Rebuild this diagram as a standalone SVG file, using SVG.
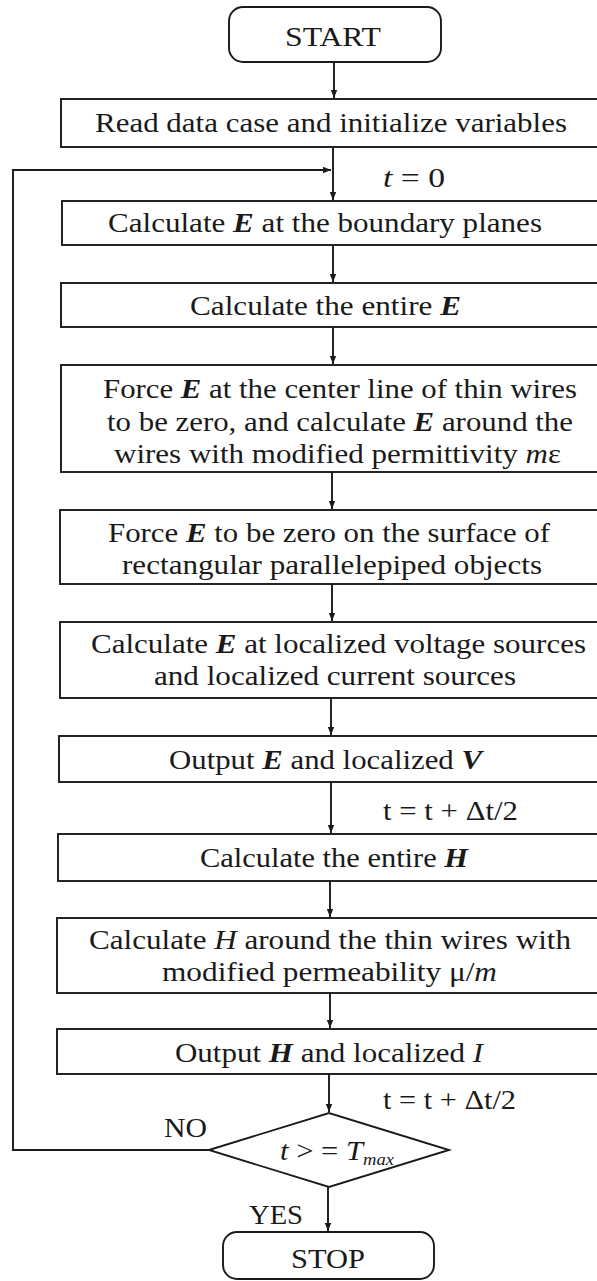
<svg xmlns="http://www.w3.org/2000/svg" width="597" height="1281" viewBox="0 0 597 1281">
<style>
.b{fill:#fff;stroke:#1a1a1a;stroke-width:1.9}
.c{fill:none;stroke:#1a1a1a;stroke-width:1.9}
text{font-family:"Liberation Serif","Times New Roman",serif;font-size:28px;fill:#1a1a1a}
.v{font-weight:bold;font-style:italic}
.i{font-style:italic}
</style>
<defs>
<marker id="ah" viewBox="0 0 10 10" refX="10" refY="5" markerWidth="8" markerHeight="8" markerUnits="userSpaceOnUse" orient="auto">
<path d="M0,1 L10,5 L0,9 z" fill="#1a1a1a"/>
</marker>
</defs>
<rect width="597" height="1281" fill="#fff"/>
<g id="connectors">
<line class="c" x1="334" y1="62" x2="334" y2="98" marker-end="url(#ah)"/>
<line class="c" x1="333" y1="147" x2="333" y2="200" marker-end="url(#ah)"/>
<polyline class="c" points="328,1150 13,1150 13,170 331,170" marker-end="url(#ah)"/>
<line class="c" x1="333" y1="245" x2="333" y2="282" marker-end="url(#ah)"/>
<line class="c" x1="333" y1="327" x2="333" y2="364" marker-end="url(#ah)"/>
<line class="c" x1="332" y1="472" x2="332" y2="509" marker-end="url(#ah)"/>
<line class="c" x1="332" y1="584" x2="332" y2="621" marker-end="url(#ah)"/>
<line class="c" x1="331" y1="698" x2="331" y2="735" marker-end="url(#ah)"/>
<line class="c" x1="331" y1="782" x2="331" y2="833" marker-end="url(#ah)"/>
<line class="c" x1="330" y1="881" x2="330" y2="917" marker-end="url(#ah)"/>
<line class="c" x1="330" y1="993" x2="330" y2="1028" marker-end="url(#ah)"/>
<line class="c" x1="329" y1="1074" x2="329" y2="1112" marker-end="url(#ah)"/>
<line class="c" x1="328" y1="1187" x2="328" y2="1231" marker-end="url(#ah)"/>
<text x="383" y="187" textLength="62" lengthAdjust="spacingAndGlyphs"><tspan class="i">t</tspan> = 0</text>
<text x="383" y="820" textLength="135" lengthAdjust="spacingAndGlyphs">t = t + Δt/2</text>
<text x="383" y="1109" textLength="133" lengthAdjust="spacingAndGlyphs">t = t + Δt/2</text>
<text x="164" y="1137" textLength="43" lengthAdjust="spacingAndGlyphs">NO</text>
<text x="249" y="1224" textLength="54" lengthAdjust="spacingAndGlyphs">YES</text>
</g>
<g id="start">
<rect class="b" x="229" y="7" width="212" height="55" rx="14"/>
<text x="285" y="46" textLength="96" lengthAdjust="spacingAndGlyphs">START</text>
</g>
<g id="init">
<rect class="b" x="61" y="99" width="540" height="48"/>
<text x="95" y="132" textLength="472" lengthAdjust="spacingAndGlyphs">Read data case and initialize variables</text>
</g>
<g id="boundary">
<rect class="b" x="62" y="201" width="540" height="44"/>
<text x="108" y="232" textLength="434" lengthAdjust="spacingAndGlyphs">Calculate <tspan class="v">E</tspan> at the boundary planes</text>
</g>
<g id="entireE">
<rect class="b" x="61" y="283" width="540" height="44"/>
<text x="190" y="315" textLength="271" lengthAdjust="spacingAndGlyphs">Calculate the entire <tspan class="v">E</tspan></text>
</g>
<g id="wires">
<rect class="b" x="61" y="365" width="540" height="107"/>
<text x="103" y="398" textLength="474" lengthAdjust="spacingAndGlyphs">Force <tspan class="v">E</tspan> at the center line of thin wires</text>
<text x="107" y="431" textLength="466" lengthAdjust="spacingAndGlyphs">to be zero, and calculate <tspan class="v">E</tspan> around the</text>
<text x="114" y="463" textLength="447" lengthAdjust="spacingAndGlyphs">wires with modified permittivity <tspan class="i">m</tspan>ε</text>
</g>
<g id="surface">
<rect class="b" x="60" y="510" width="541" height="74"/>
<text x="108" y="542" textLength="442" lengthAdjust="spacingAndGlyphs">Force <tspan class="v">E</tspan> to be zero on the surface of</text>
<text x="122" y="574" textLength="420" lengthAdjust="spacingAndGlyphs">rectangular parallelepiped objects</text>
</g>
<g id="sources">
<rect class="b" x="60" y="622" width="541" height="76"/>
<text x="91" y="653" textLength="495" lengthAdjust="spacingAndGlyphs">Calculate <tspan class="v">E</tspan> at localized voltage sources</text>
<text x="154" y="685" textLength="362" lengthAdjust="spacingAndGlyphs">and localized current sources</text>
</g>
<g id="outputE">
<rect class="b" x="59" y="736" width="542" height="46"/>
<text x="169" y="769" textLength="313" lengthAdjust="spacingAndGlyphs">Output <tspan class="v">E</tspan> and localized <tspan class="v">V</tspan></text>
</g>
<g id="entireH">
<rect class="b" x="58" y="834" width="543" height="47"/>
<text x="200" y="867" textLength="268" lengthAdjust="spacingAndGlyphs">Calculate the entire <tspan class="v">H</tspan></text>
</g>
<g id="aroundH">
<rect class="b" x="57" y="918" width="544" height="75"/>
<text x="89" y="949" textLength="482" lengthAdjust="spacingAndGlyphs">Calculate <tspan class="i">H</tspan> around the thin wires with</text>
<text x="162" y="981" textLength="335" lengthAdjust="spacingAndGlyphs">modified permeability μ/<tspan class="i">m</tspan></text>
</g>
<g id="outputH">
<rect class="b" x="57" y="1029" width="544" height="45"/>
<text x="175" y="1062" textLength="308" lengthAdjust="spacingAndGlyphs">Output <tspan class="v">H</tspan> and localized <tspan class="i">I</tspan></text>
</g>
<g id="decision">
<polygon class="b" points="209,1150 329,1113 449,1150 329,1187"/>
<text x="280" y="1160" textLength="114" lengthAdjust="spacingAndGlyphs"><tspan class="i">t</tspan> &gt; = <tspan class="i">T</tspan><tspan class="i" font-size="17" dy="5">max</tspan></text>
</g>
<g id="stop">
<rect class="b" x="223" y="1232" width="211" height="47" rx="14"/>
<text x="291" y="1268" textLength="74" lengthAdjust="spacingAndGlyphs">STOP</text>
</g>
</svg>
